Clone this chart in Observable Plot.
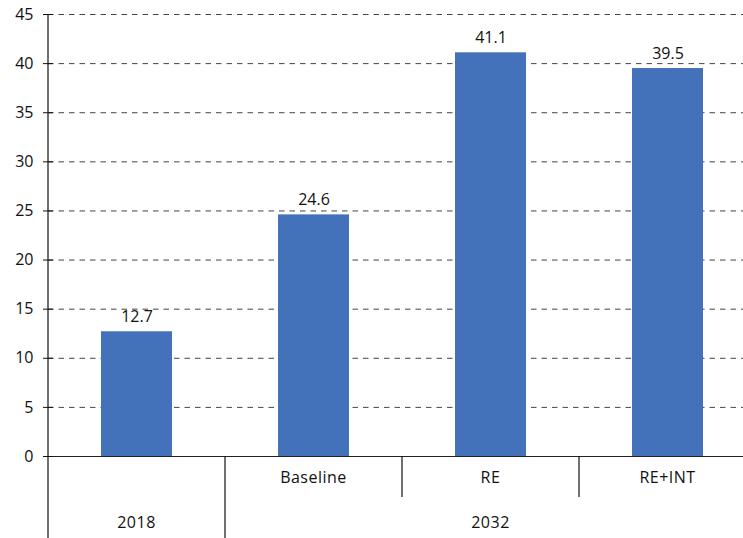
<!DOCTYPE html>
<html><head><meta charset="utf-8">
<script src="https://cdn.jsdelivr.net/npm/d3@7"></script>
<script src="https://cdn.jsdelivr.net/npm/@observablehq/plot@0.6"></script>
<style>body{margin:0;background:#fff}svg{display:block}</style>
</head><body><div id="chart"></div>
<script>
const categories = ["2018", "Baseline", "RE", "RE+INT"];
const subLabels = ["", "Baseline", "RE", "RE+INT"];
const groupOf = ["2018", "2032", "2032", "2032"];
const values = [12.7, 24.6, 41.1, 39.5];
const valueLabels = ["12.7", "24.6", "41.1", "39.5"];
const yTicks = [0, 5, 10, 15, 20, 25, 30, 35, 40, 45];

const data = categories.map((c, i) => ({cat: c, value: values[i], label: valueLabels[i]}));
const FONT = "'Open Sans', sans-serif";
const INK = "#111";
const FS = 16;

const plot = Plot.plot({
  width: 743, height: 538,
  marginLeft: 48, marginRight: 0, marginTop: 14, marginBottom: 82,
  style: {fontFamily: FONT, fontSize: FS + "px", color: INK, background: "#fff", overflow: "visible"},
  x: {type: "band", domain: categories, range: [48, 756], paddingInner: 0.6, paddingOuter: 0.3, axis: null},
  y: {domain: [0, 45], axis: null},
  marks: [
    Plot.ruleY(yTicks.filter(t => t > 0), {stroke: "#444", strokeDasharray: "5.5,5", strokeWidth: 1}),
    Plot.barY(data, {x: "cat", y: "value", fill: "#4472BA"}),
    Plot.ruleY([0], {stroke: "#222"}),
    Plot.axisY({ticks: yTicks, tickSize: 5, tickPadding: 10, tickFormat: d => String(d), label: null, stroke: INK, fontSize: FS}),
    Plot.axisY({ticks: yTicks, tickSize: 5, dx: 5, tickFormat: () => "", label: null, stroke: INK}),
    Plot.text(data, {x: "cat", y: "value", text: "label", lineAnchor: "middle", dy: -15, fontSize: FS, fill: INK})
  ]
});
document.getElementById("chart").appendChild(plot);

// multi-level category axis built from Plot's scales
const svg = d3.select(plot);
const xs = plot.scale("x");
const ys = plot.scale("y");
const step = xs.step, bw = xs.bandwidth;
const y0 = ys.apply(0);
const yTop = ys.apply(45);
const H = 538;
const g = svg.append("g").attr("font-family", FONT).attr("font-size", FS).attr("fill", INK);
const leftEdge = c => xs.apply(c) - (step - bw) / 2;

// y axis line
g.append("line").attr("x1", 48).attr("x2", 48).attr("y1", yTop).attr("y2", H)
  .attr("stroke", INK).attr("stroke-width", 1.2);

categories.forEach((c, i) => {
  if (i > 0) {
    const full = groupOf[i] !== groupOf[i - 1];
    g.append("line").attr("x1", leftEdge(c)).attr("x2", leftEdge(c))
      .attr("y1", y0).attr("y2", full ? H : y0 + 41)
      .attr("stroke", INK).attr("stroke-width", 1.2);
  }
  if (subLabels[i]) {
    g.append("text").attr("x", xs.apply(c) + bw / 2).attr("y", y0 + 23)
      .attr("text-anchor", "middle").attr("dominant-baseline", "middle")
      .attr("letter-spacing", "0.5px").text(subLabels[i]);
  }
});

const groups = Array.from(new Set(groupOf));
groups.forEach(gname => {
  const members = categories.filter((c, i) => groupOf[i] === gname);
  const x1 = leftEdge(members[0]);
  const x2 = leftEdge(members[members.length - 1]) + step;
  g.append("text").attr("x", (x1 + x2) / 2).attr("y", y0 + 68)
    .attr("text-anchor", "middle").attr("dominant-baseline", "middle")
    .attr("letter-spacing", "0.5px").text(gname);
});
</script>
</body></html>
